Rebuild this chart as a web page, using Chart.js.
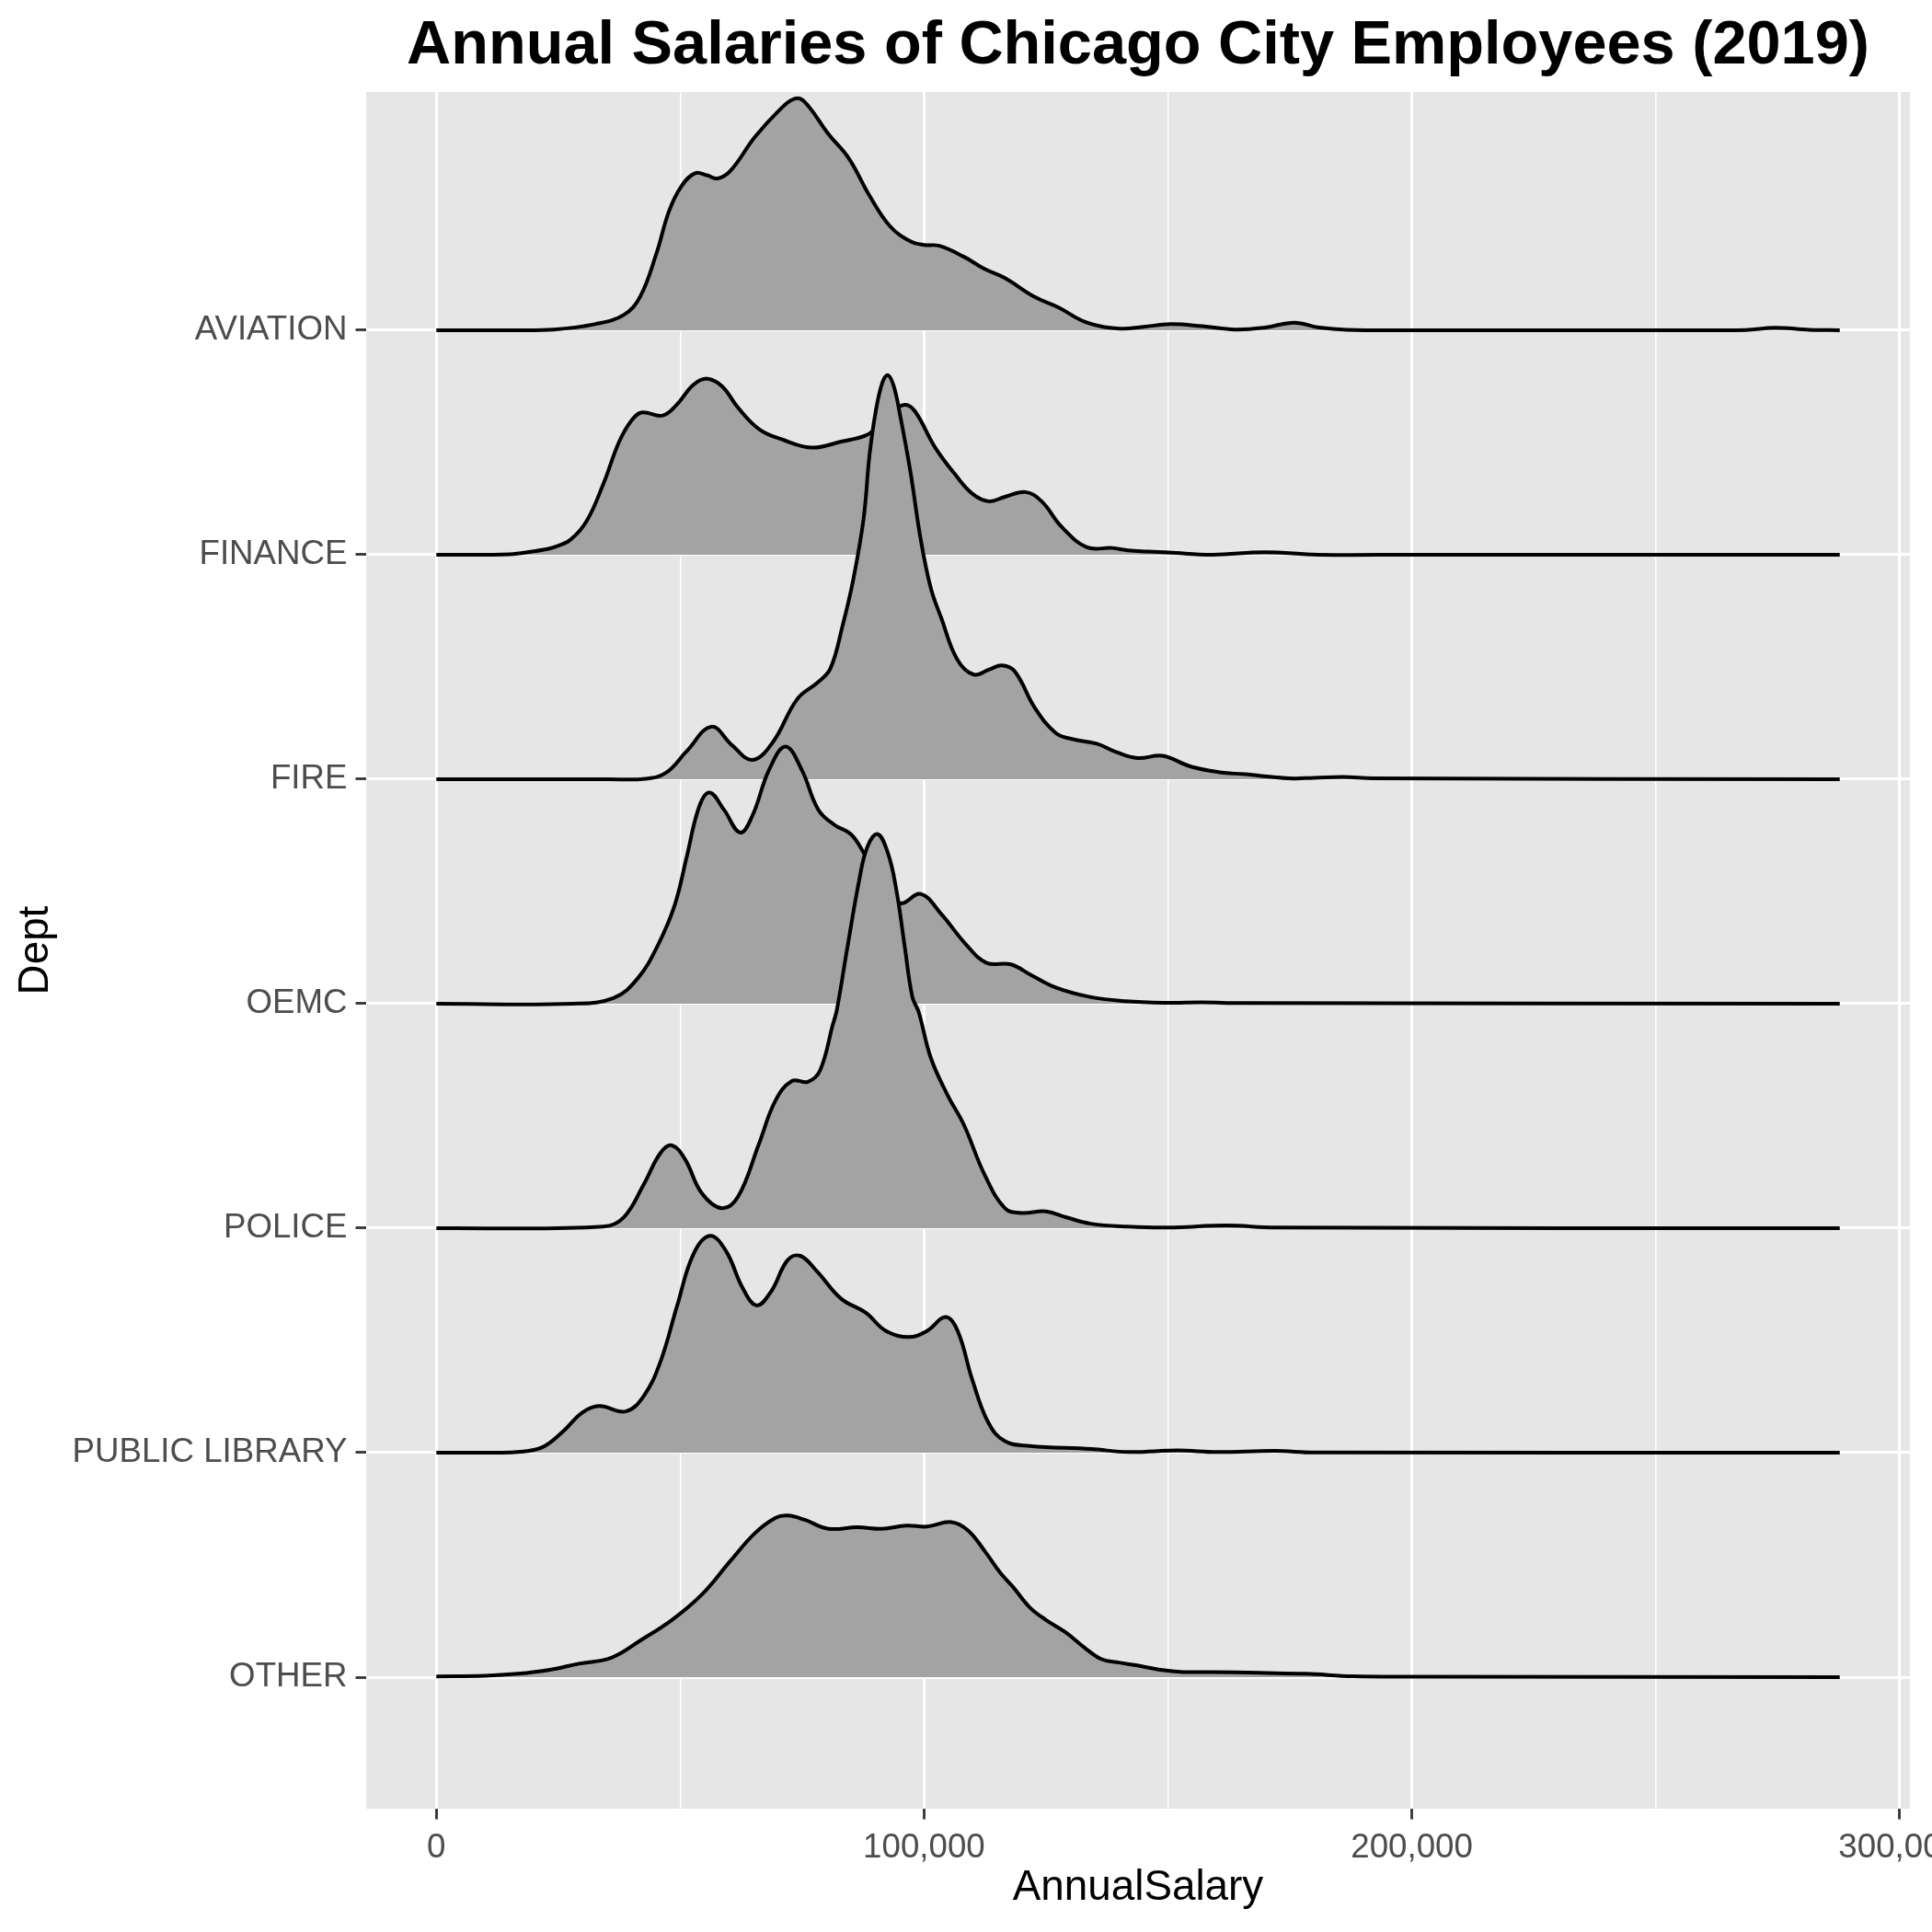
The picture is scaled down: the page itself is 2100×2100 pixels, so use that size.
<!DOCTYPE html>
<html><head><meta charset="utf-8">
<script src="https://cdn.jsdelivr.net/npm/chart.js@4.4.1/dist/chart.umd.min.js"></script>
<style>html,body{margin:0;padding:0;background:#fff;}canvas{display:block;}</style>
</head><body>
<canvas id="c" width="2100" height="2100"></canvas>
<script>
// Departments, listed bottom (y=1) to top (y=7)
const departments = ['OTHER', 'PUBLIC LIBRARY', 'POLICE', 'OEMC', 'FIRE', 'FINANCE', 'AVIATION'];
const xTickValues = [0, 50000, 100000, 150000, 200000, 250000, 300000];
const xLabelTicks = [0, 100000, 200000, 300000];

// Ridge curves: salary (x) and ridge height (in units of row spacing)
const aviationX = [0, 15000, 24000, 32500, 38400, 41800, 45100, 47700, 50200, 53100, 55500, 57700, 60300, 65300, 70300, 73300, 75400, 80400, 84600, 88800, 93000, 97200, 100000, 103100, 108100, 112400, 116600, 122500, 127500, 133400, 140100, 145000, 150500, 157000, 163800, 170000, 175900, 181000, 186700, 200000, 250000, 268400, 274400, 281500, 287750];
const aviationH = [0, 0, 0.003, 0.027, 0.068, 0.15, 0.34, 0.53, 0.64, 0.70, 0.69, 0.676, 0.71, 0.86, 0.98, 1.03, 1.02, 0.874, 0.765, 0.60, 0.464, 0.396, 0.38, 0.376, 0.328, 0.273, 0.232, 0.150, 0.102, 0.034, 0.007, 0.015, 0.027, 0.018, 0.003, 0.012, 0.034, 0.012, 0.002, 0, 0, 0.001, 0.011, 0.002, 0];

const financeX = [0, 15000, 20000, 22000, 24100, 27500, 30800, 34200, 37500, 40100, 42200, 46400, 49300, 52700, 55600, 58600, 61900, 66200, 71200, 77100, 83000, 88000, 90500, 93000, 96000, 98100, 102300, 106500, 109900, 113200, 116600, 120800, 124100, 128300, 133400, 138600, 141800, 145900, 150200, 159100, 169900, 180800, 200000, 287750];
const financeH = [0, 0.002, 0.015, 0.022, 0.033, 0.067, 0.149, 0.313, 0.504, 0.60, 0.634, 0.62, 0.668, 0.757, 0.784, 0.75, 0.654, 0.559, 0.511, 0.477, 0.504, 0.531, 0.57, 0.63, 0.668, 0.64, 0.477, 0.354, 0.272, 0.238, 0.258, 0.279, 0.238, 0.122, 0.033, 0.03, 0.019, 0.014, 0.01, 0, 0.011, 0, 0, 0];

const fireX = [0, 35000, 42900, 47100, 51300, 56400, 60600, 64800, 69000, 74000, 78250, 80800, 83300, 85400, 87600, 88800, 90100, 91500, 92600, 93800, 95100, 97200, 99300, 101400, 103500, 106800, 110200, 113500, 116000, 118600, 122800, 127000, 130300, 135400, 139500, 143800, 148900, 154700, 160600, 165700, 174800, 180000, 186000, 192000, 287750];
const fireH = [0, 0, 0.002, 0.029, 0.124, 0.234, 0.152, 0.086, 0.165, 0.357, 0.432, 0.493, 0.684, 0.88, 1.16, 1.44, 1.64, 1.77, 1.80, 1.75, 1.62, 1.37, 1.07, 0.85, 0.72, 0.534, 0.466, 0.49, 0.507, 0.48, 0.315, 0.206, 0.179, 0.158, 0.12, 0.094, 0.104, 0.056, 0.031, 0.022, 0.004, 0.006, 0.01, 0.004, 0];

const oemcX = [0, 27900, 36300, 41300, 45500, 48900, 51400, 53900, 56050, 58950, 62300, 64800, 68200, 71600, 74950, 78300, 81650, 85000, 87600, 91000, 95100, 99300, 103500, 108600, 112800, 117800, 122000, 127000, 133800, 141300, 150000, 157000, 165000, 287750];
const oemcH = [0, 0, 0.025, 0.113, 0.264, 0.441, 0.66, 0.878, 0.94, 0.865, 0.762, 0.837, 1.04, 1.145, 1.04, 0.865, 0.796, 0.755, 0.673, 0.54, 0.448, 0.489, 0.40, 0.264, 0.182, 0.175, 0.127, 0.072, 0.031, 0.011, 0.004, 0.006, 0.003, 0];

const policeX = [0, 34200, 38400, 42600, 45950, 48300, 51000, 54400, 58570, 61940, 66150, 69500, 72900, 76200, 78700, 81300, 82100, 84200, 86700, 88400, 90500, 92600, 94300, 96000, 97600, 98900, 101400, 104800, 108200, 112400, 116600, 120000, 125000, 129200, 134200, 141800, 150000, 162000, 172000, 287750];
const policeH = [0, 0.007, 0.048, 0.198, 0.335, 0.369, 0.307, 0.157, 0.089, 0.143, 0.376, 0.567, 0.656, 0.652, 0.704, 0.908, 0.97, 1.24, 1.55, 1.70, 1.755, 1.67, 1.51, 1.26, 1.03, 0.963, 0.758, 0.594, 0.459, 0.239, 0.089, 0.068, 0.075, 0.048, 0.02, 0.007, 0.003, 0.012, 0.003, 0];

const libraryX = [0, 12000, 16600, 21600, 25800, 30000, 33400, 38850, 42600, 45950, 49340, 52700, 56100, 59400, 62800, 65700, 68700, 72000, 74600, 78000, 83000, 88000, 92200, 96800, 100600, 104400, 106900, 109900, 113200, 116600, 121700, 134300, 142000, 152000, 160000, 172000, 180000, 287750];
const libraryH = [0, 0, 0.003, 0.023, 0.091, 0.18, 0.208, 0.184, 0.255, 0.405, 0.652, 0.884, 0.966, 0.898, 0.734, 0.656, 0.72, 0.857, 0.877, 0.809, 0.686, 0.624, 0.542, 0.515, 0.542, 0.604, 0.542, 0.324, 0.133, 0.051, 0.030, 0.016, 0.003, 0.01, 0.003, 0.008, 0.001, 0];

const otherX = [0, 10000, 16600, 23300, 29200, 35900, 41800, 48500, 54400, 60300, 65300, 69500, 72000, 75400, 80400, 86300, 91300, 96400, 100600, 105600, 109000, 112500, 115700, 118300, 121700, 125000, 129000, 133000, 136300, 140000, 143500, 148400, 153100, 159000, 168700, 178300, 188000, 200000, 287750];
const otherH = [0.003, 0.006, 0.015, 0.033, 0.06, 0.087, 0.163, 0.258, 0.367, 0.518, 0.641, 0.709, 0.72, 0.702, 0.661, 0.668, 0.661, 0.675, 0.671, 0.691, 0.654, 0.56, 0.463, 0.40, 0.31, 0.255, 0.20, 0.13, 0.081, 0.065, 0.053, 0.033, 0.023, 0.023, 0.019, 0.015, 0.004, 0.002, 0];

const ridgeXs = [otherX, libraryX, policeX, oemcX, fireX, financeX, aviationX];
const ridgeHs = [otherH, libraryH, policeH, oemcH, fireH, financeH, aviationH];

const FONT = "'Liberation Sans', Arial, Helvetica, sans-serif";

const datasets = departments.map((name, i) => {
  const base = i + 1;
  return {
    label: name,
    data: ridgeXs[i].map((x, k) => ({ x: x, y: base + ridgeHs[i][k] })),
    borderColor: '#000000',
    borderWidth: 4,
    backgroundColor: '#A3A3A3',
    fill: { value: base },
    pointRadius: 0,
    tension: 0.4,
    borderJoinStyle: 'round',
    borderCapStyle: 'butt'
  };
});

const panelBg = {
  id: 'panelBg',
  beforeDraw(chart) {
    const { ctx, chartArea: a } = chart;
    ctx.save();
    ctx.fillStyle = '#E6E6E6';
    ctx.fillRect(a.left, a.top, a.right - a.left, a.bottom - a.top);
    ctx.restore();
  }
};

new Chart(document.getElementById('c'), {
  type: 'line',
  data: { datasets: datasets },
  plugins: [panelBg],
  options: {
    responsive: false,
    animation: false,
    devicePixelRatio: 1,
    layout: { padding: { top: 0, left: 0, right: 24, bottom: 0 } },
    plugins: {
      legend: { display: false },
      tooltip: { enabled: false },
      title: {
        display: true,
        text: 'Annual Salaries of Chicago City Employees (2019)',
        fullSize: false,
        color: '#000000',
        font: { family: FONT, size: 66.7, weight: 'bold', lineHeight: 1.2 },
        padding: { top: 11, bottom: 9 }
      }
    },
    scales: {
      x: {
        type: 'linear',
        min: -14388,
        max: 302138,
        afterBuildTicks(scale) { scale.ticks = xTickValues.map(v => ({ value: v })); },
        afterFit(scale) { scale.height = 134; scale.paddingLeft = 0; scale.paddingRight = 0; },
        border: { display: false },
        grid: {
          color: '#FFFFFF',
          lineWidth: ctx => (ctx.tick && xLabelTicks.includes(ctx.tick.value)) ? 3 : 1.5,
          drawTicks: true,
          tickLength: 11.5,
          tickWidth: 2.8,
          tickColor: ctx => (ctx.tick && xLabelTicks.includes(ctx.tick.value)) ? '#333333' : 'rgba(0,0,0,0)'
        },
        ticks: {
          autoSkip: false,
          maxRotation: 0,
          minRotation: 0,
          padding: 9,
          color: '#4D4D4D',
          font: { family: FONT, size: 36.7 },
          callback: v => xLabelTicks.includes(v) ? v.toLocaleString('en-US') : ''
        },
        title: {
          display: true,
          text: 'AnnualSalary',
          color: '#000000',
          font: { family: FONT, size: 45.8, lineHeight: 1.2 },
          padding: { top: 0, bottom: 20 }
        }
      },
      y: {
        type: 'linear',
        min: 0.414,
        max: 8.061,
        afterBuildTicks(scale) { scale.ticks = departments.map((d, i) => ({ value: i + 1 })); },
        afterFit(scale) { scale.width = 398; scale.paddingTop = 0; scale.paddingBottom = 0; },
        border: { display: false },
        grid: {
          color: '#FFFFFF',
          lineWidth: 3,
          drawTicks: true,
          tickLength: 11.5,
          tickWidth: 2.8,
          tickColor: '#333333'
        },
        ticks: {
          autoSkip: false,
          padding: 9,
          color: '#4D4D4D',
          font: { family: FONT, size: 36.7 },
          callback: v => departments[Math.round(v) - 1] || ''
        },
        title: {
          display: true,
          text: 'Dept',
          color: '#000000',
          font: { family: FONT, size: 45.8, lineHeight: 1.2 },
          padding: { top: 12, bottom: 0 }
        }
      }
    }
  }
});
</script>
</body></html>
